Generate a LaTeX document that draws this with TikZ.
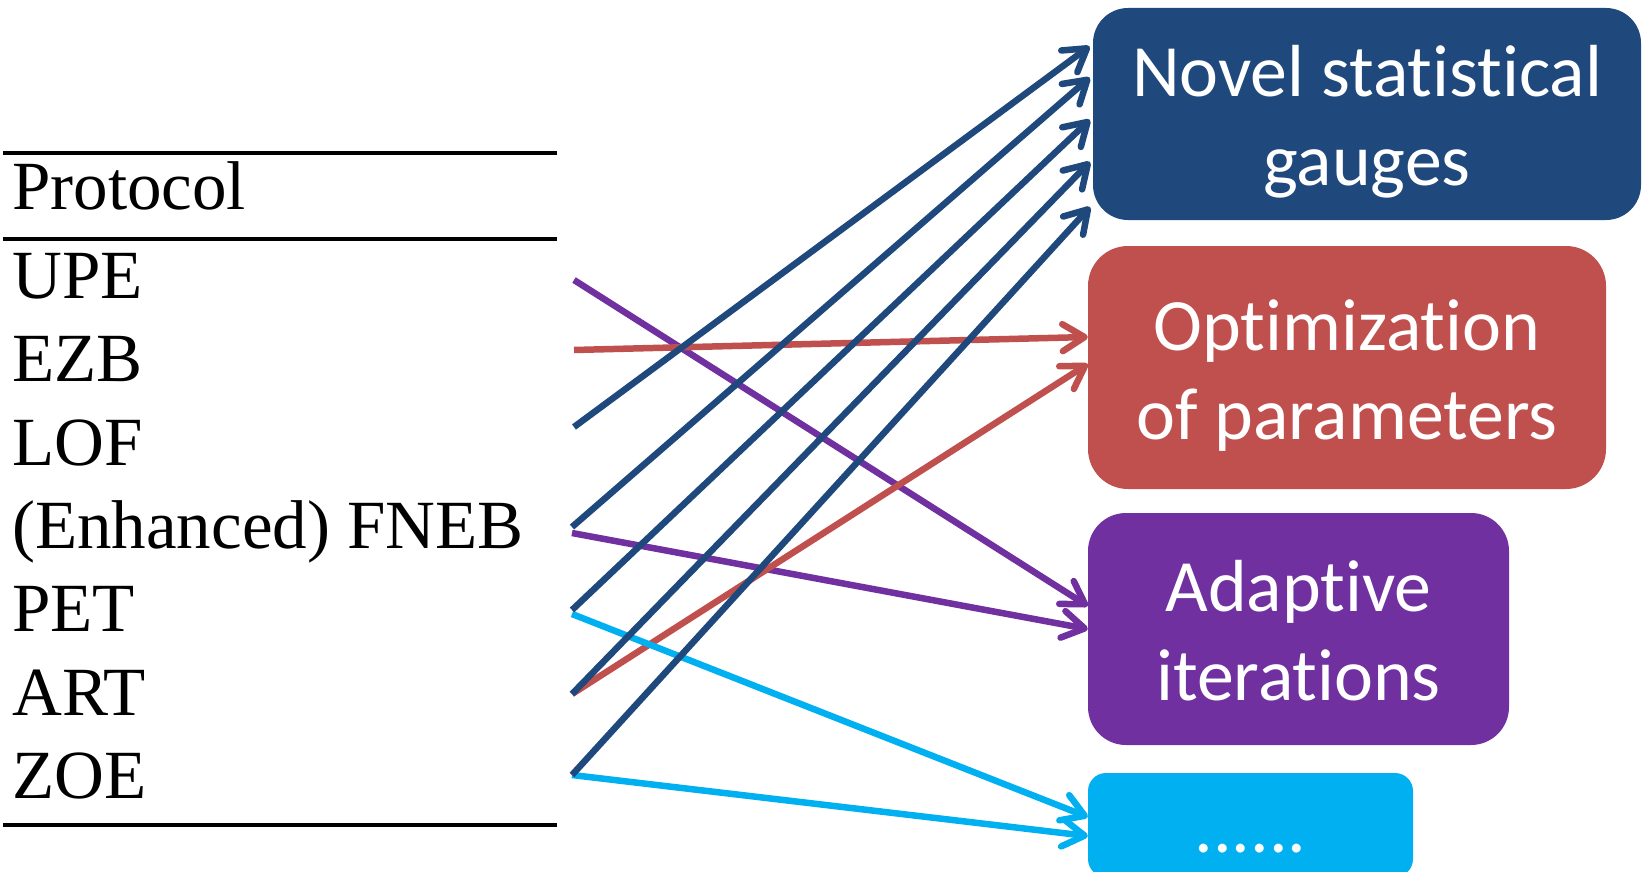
\documentclass[tikz,border=0pt]{standalone}
\usepackage{fontspec}
\setmainfont{Liberation Serif}
\newfontfamily\boxfont[Ligatures=NoCommon]{Carlito}
\usetikzlibrary{arrows.meta,calc}

\definecolor{navy}{RGB}{31,73,125}
\definecolor{brick}{RGB}{192,80,77}
\definecolor{plum}{RGB}{112,48,160}
\definecolor{sky}{RGB}{0,176,240}

% uniform line struts so every box label is centred by its line boxes
\newcommand\ls{\rule[-0.21em]{0pt}{1.16em}}

\begin{document}
\begin{tikzpicture}[x=1pt,y=-1pt,
  rowtext/.style={anchor=base west, inner sep=0pt, font=\fontsize{69}{80}\selectfont},
  tablerule/.style={line width=3.3pt},
  catbox/.style={draw=none, inner sep=0pt, text=white, align=center,
    font=\boxfont\fontsize{73.8}{88.7}\selectfont},
  link/.style={line width=6.5pt, -{Straight Barb[length=22pt,width=27pt,round]}}]

\clip (0,0) rectangle (1643,872);

% the protocol table
\draw[tablerule] (3,153) -- (557,153);
\draw[tablerule] (3,239) -- (557,239);
\draw[tablerule] (3,825) -- (557,825);
\node[rowtext] (hdr)  at (12,209.6) {Protocol};
\node[rowtext] (upe)  at (12,298.5) {UPE};
\node[rowtext] (ezb)  at (12,381.8) {EZB};
\node[rowtext] (lof)  at (12,465.1) {LOF};
\node[rowtext] (fneb) at (12,548.4) {(Enhanced) FNEB};
\node[rowtext] (pet)  at (12,631.7) {PET};
\node[rowtext] (art)  at (12,715.0) {ART};
\node[rowtext] (zoe)  at (12,798.3) {ZOE};

% where the links leave each row
\coordinate (upe-out)   at (574,280);
\coordinate (ezb-out)   at (574,350);
\coordinate (lof-out)   at (574,427);
\coordinate (fneb-out)  at (572,527);
\coordinate (fneb-out2) at (572,533);
\coordinate (pet-out)   at (572,610);
\coordinate (pet-out2)  at (572,614);
\coordinate (art-out)   at (572,694);
\coordinate (zoe-out)   at (572,775);

% category boxes
\node[catbox, fill=navy, minimum width=548pt, minimum height=212pt, rounded corners=35pt]
  (gauge) at (1367,114) {\ls Novel statistical\\\ls gauges};
\node[catbox, fill=brick, minimum width=518pt, minimum height=243pt, rounded corners=40pt]
  (optim) at (1347,367.5) {\ls Optimization\\\ls of parameters};
\node[catbox, fill=plum, minimum width=421pt, minimum height=232pt, rounded corners=38pt]
  (adapt) at (1298.5,629) {\ls Adaptive\\\ls iterations};
\node[catbox, fill=sky, minimum width=325pt, minimum height=104pt, rounded corners=18pt]
  (more) at (1250.5,825) {\ls ......};

% links
\draw[link, plum] (upe-out) -- (adapt.west |- 0,606);
\draw[link, plum] (fneb-out2) -- (adapt.west |- 0,629);
\draw[link, brick] (ezb-out) -- (optim.west |- 0,337);
\draw[link, brick] (art-out) -- (optim.west |- 0,364);
\draw[link, sky] (pet-out2) -- (more.west |- 0,817);
\draw[link, sky] (zoe-out) -- (more.west |- 0,836);
\draw[link, navy, shorten >=4pt] (lof-out)  -- (gauge.west |- 0,44);
\draw[link, navy, shorten >=4pt] (fneb-out) -- (gauge.west |- 0,75);
\draw[link, navy, shorten >=4pt] (pet-out)  -- (gauge.west |- 0,117);
\draw[link, navy, shorten >=4pt] (art-out)  -- (gauge.west |- 0,159);
\draw[link, navy, shorten >=4pt] (zoe-out)  -- (gauge.west |- 0,204);
\end{tikzpicture}
\end{document}
